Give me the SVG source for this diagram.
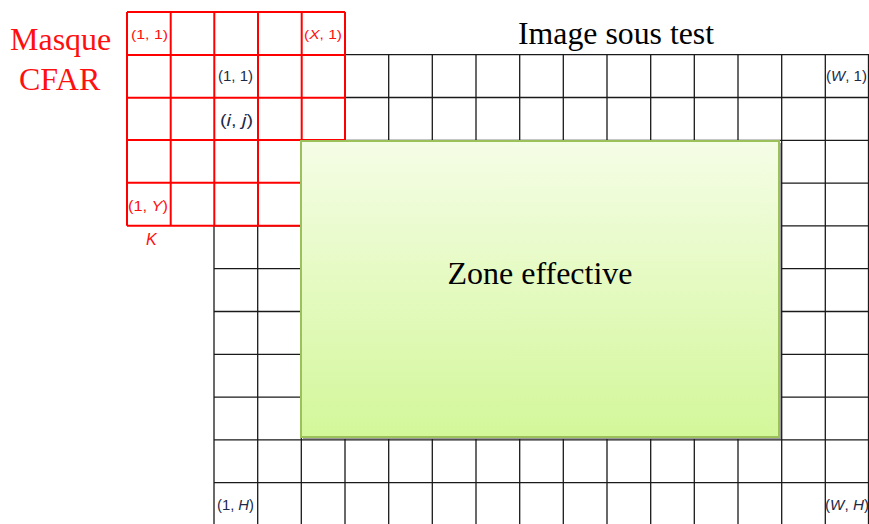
<svg xmlns="http://www.w3.org/2000/svg" width="869" height="524" viewBox="0 0 869 524">
<style>
.grid{stroke:#1a1a1a;stroke-width:1.3;fill:none}
.red{stroke:#ff0000;stroke-width:2;fill:none}
.title{font-family:"Liberation Serif",serif}
.lbl{font-family:"Liberation Sans",Arial,sans-serif}
.r{fill:#ff1010}
.d{fill:#1c2a48}
</style>
<defs>
<linearGradient id="gz" x1="0" y1="0" x2="0" y2="1">
<stop offset="0" stop-color="#f5fde6"/>
<stop offset="1" stop-color="#d3f79a"/>
</linearGradient>
</defs>
<rect width="869" height="524" fill="#ffffff"/>
<g id="image-grid">
<path class="grid" d="M214,54.7V524M257.7,54.7V524M301.3,54.7V524M345,54.7V524M388.7,54.7V524M432.3,54.7V524M476,54.7V524M519.7,54.7V524M563.3,54.7V524M607,54.7V524M650.7,54.7V524M694.3,54.7V524M738,54.7V524M781.7,54.7V524M825.3,54.7V524M868.5,54.7V524"/>
<path class="grid" d="M214,54.7H869M214,97.5H869M214,140.3H869M214,183.1H869M214,225.9H869M214,268.7H869M214,311.5H869M214,354.3H869M214,397.1H869M214,439.9H869M214,482.7H869"/>
</g>
<g id="cfar-mask">
<path d="M127,12H345V140H301.7V225.7H127Z" fill="#ffffff"/>
<path class="red" d="M127,12H345M127,55H345M127,97.7H345M127,140H345M127,182.7H301.7M127,225.7H301.7"/>
<path class="red" d="M127,12V225.7M170.7,12V225.7M214.3,12V225.7M258,12V225.7M301.7,12V225.7M345,12V140"/>
</g>
<g id="zone-effective">
<rect x="303" y="143" width="478" height="296" fill="#9a9a9a"/>
<rect x="301" y="141" width="478" height="296" fill="url(#gz)" stroke="#9cc05a" stroke-width="2"/>
<text class="title" x="540" y="284" font-size="32" text-anchor="middle" fill="#000">Zone effective</text>
</g>
<g id="titles">
<text class="title r" x="10" y="50" font-size="32">Masque</text>
<text class="title r" x="19" y="90" font-size="32">CFAR</text>
<text class="title" x="518" y="44" font-size="31.8" fill="#000">Image sous test</text>
</g>
<g id="labels">
<text class="lbl r" x="131" y="39" font-size="13" textLength="37" lengthAdjust="spacingAndGlyphs">(1, 1)</text>
<text class="lbl r" x="304" y="39" font-size="13" textLength="38" lengthAdjust="spacingAndGlyphs">(<tspan font-style="italic">X</tspan>, 1)</text>
<text class="lbl d" x="218" y="81" font-size="14" textLength="35" lengthAdjust="spacingAndGlyphs">(1, 1)</text>
<text class="lbl d" x="220" y="126" font-size="17" textLength="33" lengthAdjust="spacingAndGlyphs">(<tspan font-style="italic">i</tspan>, <tspan font-style="italic">j</tspan>)</text>
<text class="lbl r" x="128" y="211" font-size="14" textLength="40" lengthAdjust="spacingAndGlyphs">(1, <tspan font-style="italic">Y</tspan>)</text>
<text class="lbl r" x="146" y="245" font-size="16" font-style="italic">K</text>
<text class="lbl d" x="826" y="81" font-size="14" textLength="41" lengthAdjust="spacingAndGlyphs">(<tspan font-style="italic">W</tspan>, 1)</text>
<text class="lbl d" x="217" y="510" font-size="14" textLength="37" lengthAdjust="spacingAndGlyphs">(1, <tspan font-style="italic">H</tspan>)</text>
<text class="lbl d" x="825" y="510" font-size="14" textLength="44" lengthAdjust="spacingAndGlyphs">(<tspan font-style="italic">W</tspan>, <tspan font-style="italic">H</tspan>)</text>
</g>
</svg>
